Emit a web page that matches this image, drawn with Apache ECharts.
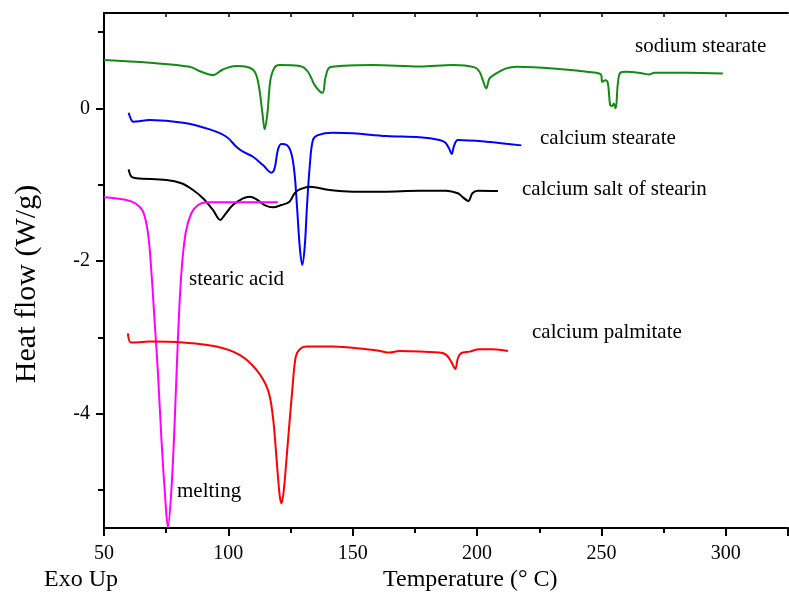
<!DOCTYPE html>
<html>
<head>
<meta charset="utf-8">
<script src="https://cdn.jsdelivr.net/npm/echarts@6/dist/echarts.min.js"></script>
<style>
  html, body { margin: 0; padding: 0; background: #fff; }
  #chart { width: 789px; height: 594px; }
</style>
</head>
<body>
<div id="chart"></div>
<script>
// DSC heat-flow curves (Exo Up), temperature in °C, heat flow in W/g

const sodiumT  = [50, 68.4, 84.4, 89.1, 93.8, 97.8, 103.2, 107.2, 110.6, 112.3, 113.7, 114.6, 115.7, 116.9, 118.6, 120.6, 128.7, 132, 134.7, 137.8, 139.1, 140.7, 144.7, 158.1, 176.9, 190.3, 199, 201, 202.3, 203.7, 205, 207.7, 211.7, 215.8, 230.5, 247.9, 249.9, 250.3, 251.6, 252.6, 253.5, 254.3, 254.9, 255.7, 256.6, 257.6, 260, 266.6, 269.1, 271.3, 284.1, 298.8];
const sodiumHF = [0.633, 0.597, 0.545, 0.48, 0.436, 0.51, 0.554, 0.545, 0.48, 0.283, -0.066, -0.275, -0.066, 0.37, 0.537, 0.567, 0.554, 0.48, 0.305, 0.204, 0.414, 0.537, 0.554, 0.567, 0.548, 0.567, 0.537, 0.48, 0.37, 0.262, 0.393, 0.458, 0.524, 0.545, 0.524, 0.466, 0.436, 0.348, 0.37, 0.327, 0.043, 0.03, 0.065, 0.0, 0.327, 0.466, 0.48, 0.458, 0.445, 0.466, 0.466, 0.458];

const caStearateT  = [59.9, 60.7, 61.7, 68.4, 81.8, 92.5, 99.2, 103.2, 105.9, 109.9, 113.9, 117.3, 118.6, 119.9, 121.3, 123.5, 125.3, 126.6, 127.6, 128.7, 129.7, 130.7, 131.6, 132.7, 134, 136, 142, 150.1, 163.5, 176.9, 184.9, 187.3, 188.7, 189.8, 190.7, 192.3, 203.7, 217.8];
const caStearateHF = [-0.058, -0.131, -0.175, -0.153, -0.188, -0.275, -0.372, -0.503, -0.568, -0.634, -0.743, -0.843, -0.786, -0.546, -0.468, -0.481, -0.589, -0.851, -1.289, -1.813, -2.052, -1.813, -1.289, -0.765, -0.415, -0.35, -0.319, -0.327, -0.363, -0.38, -0.415, -0.45, -0.524, -0.598, -0.494, -0.415, -0.437, -0.485];

const stearinT  = [59.9, 61, 63, 75.1, 81.1, 85.8, 89.8, 93.8, 96.8, 98.5, 101.8, 105.9, 108.6, 111.3, 114.6, 117.9, 121.3, 124.6, 126.6, 128.7, 132.7, 140.7, 150.1, 162.1, 176.9, 187.6, 192.3, 194.3, 196.5, 198.1, 200.3, 208.4];
const stearinHF = [-0.799, -0.895, -0.917, -0.939, -0.982, -1.07, -1.179, -1.332, -1.463, -1.398, -1.267, -1.179, -1.158, -1.192, -1.267, -1.297, -1.267, -1.223, -1.113, -1.061, -1.027, -1.07, -1.092, -1.092, -1.079, -1.079, -1.113, -1.166, -1.214, -1.113, -1.079, -1.083];

const stearicT  = [50, 59, 63, 65.7, 67.7, 69.1, 70.4, 71.7, 73.1, 74.4, 75.7, 77.1, 78.4, 79.7, 81.1, 82.8, 85.1, 87.8, 91.2, 119.9];
const stearicHF = [-1.166, -1.201, -1.253, -1.354, -1.637, -2.161, -2.816, -3.471, -4.344, -4.999, -5.49, -4.999, -4.126, -3.035, -2.161, -1.637, -1.375, -1.267, -1.231, -1.231];

const palmitateT  = [59.6, 61, 68.4, 81.8, 95.2, 104.5, 111.3, 115.9, 117.9, 119.3, 120.6, 121.4, 122.3, 124, 125.7, 127.1, 128.7, 131.3, 142, 155.5, 160.8, 164.8, 168.8, 184.9, 187.6, 189.6, 191.2, 192.3, 193.6, 197, 201, 206.3, 212.4];
const palmitateHF = [-2.947, -3.07, -3.057, -3.07, -3.122, -3.231, -3.428, -3.69, -4.04, -4.563, -5.065, -5.174, -4.999, -4.344, -3.69, -3.253, -3.157, -3.122, -3.122, -3.157, -3.179, -3.201, -3.179, -3.201, -3.231, -3.319, -3.415, -3.274, -3.209, -3.188, -3.157, -3.157, -3.179];

// Axis ticks and labels
const xMajorTicks = [50, 100, 150, 200, 250, 300, 325];
const xMinorTicks = [75, 125, 175, 225, 275];
const xLabels     = [50, 100, 150, 200, 250, 300];
const xTopTicks   = [75, 100, 125, 150, 175, 200, 225, 250, 275, 300];
const yMajorTicks = [-4, -2, 0];
const yMinorTicks = [-5, -3, -1, 1];

const FONT = '"Liberation Serif", "DejaVu Serif", serif';

function pairs(xs, ys) {
  return xs.map((x, i) => [x, ys[i]]);
}

function curve(name, xs, ys, color) {
  return {
    name: name,
    type: 'line',
    xAxisIndex: 0,
    yAxisIndex: 0,
    data: pairs(xs, ys),
    showSymbol: false,
    smooth: 0.35,
    lineStyle: { color: color, width: 2 },
    itemStyle: { color: color },
    silent: true,
    animation: false
  };
}

const frameLine = { show: true, onZero: false, lineStyle: { color: '#000', width: 2 } };
const noLine = { show: false, onZero: false };

const chart = echarts.init(document.getElementById('chart'), null, { renderer: 'canvas' });

chart.setOption({
  backgroundColor: '#ffffff',
  animation: false,
  grid: { left: 104, right: 1, top: 13, bottom: 66, containLabel: false },
  xAxis: [
    {
      type: 'value', min: 50, max: 325, position: 'bottom',
      axisLine: frameLine,
      axisTick: { show: true, inside: false, length: 8, customValues: xMajorTicks, lineStyle: { color: '#000', width: 2 } },
      axisLabel: { show: true, customValues: xLabels, margin: 16, color: '#000', fontSize: 20, fontFamily: FONT },
      splitLine: { show: false }
    },
    {
      type: 'value', min: 50, max: 325, position: 'bottom',
      axisLine: noLine,
      axisTick: { show: true, inside: false, length: 5, customValues: xMinorTicks, lineStyle: { color: '#000', width: 2 } },
      axisLabel: { show: false },
      splitLine: { show: false }
    },
    {
      type: 'value', min: 50, max: 325, position: 'top',
      axisLine: frameLine,
      axisTick: { show: true, inside: true, length: 4, customValues: xTopTicks, lineStyle: { color: '#000', width: 1.5 } },
      axisLabel: { show: false },
      splitLine: { show: false }
    }
  ],
  yAxis: [
    {
      type: 'value', min: -5.5, max: 1.25, position: 'left',
      axisLine: frameLine,
      axisTick: { show: true, inside: false, length: 8, customValues: yMajorTicks, lineStyle: { color: '#000', width: 2 } },
      axisLabel: { show: true, customValues: yMajorTicks, margin: 14, color: '#000', fontSize: 20, fontFamily: FONT },
      splitLine: { show: false }
    },
    {
      type: 'value', min: -5.5, max: 1.25, position: 'left',
      axisLine: noLine,
      axisTick: { show: true, inside: false, length: 6, customValues: yMinorTicks, lineStyle: { color: '#000', width: 2 } },
      axisLabel: { show: false },
      splitLine: { show: false }
    }
  ],
  series: [
    curve('sodium stearate', sodiumT, sodiumHF, '#138a13'),
    curve('calcium stearate', caStearateT, caStearateHF, '#0000ff'),
    curve('calcium salt of stearin', stearinT, stearinHF, '#000000'),
    curve('stearic acid', stearicT, stearicHF, '#ff00ff'),
    curve('calcium palmitate', palmitateT, palmitateHF, '#ff0000')
  ],
  graphic: [
    { type: 'text', left: 635, top: 36, style: { text: 'sodium stearate', font: '21px ' + FONT, fill: '#000' } },
    { type: 'text', left: 540, top: 128, style: { text: 'calcium stearate', font: '21px ' + FONT, fill: '#000' } },
    { type: 'text', left: 522, top: 179, style: { text: 'calcium salt of stearin', font: '21px ' + FONT, fill: '#000' } },
    { type: 'text', left: 189, top: 269, style: { text: 'stearic acid', font: '21px ' + FONT, fill: '#000' } },
    { type: 'text', left: 532, top: 322, style: { text: 'calcium palmitate', font: '21px ' + FONT, fill: '#000' } },
    { type: 'text', left: 177, top: 481, style: { text: 'melting', font: '21px ' + FONT, fill: '#000' } },
    { type: 'text', left: 44, top: 568, style: { text: 'Exo Up', font: '24px ' + FONT, fill: '#000' } },
    { type: 'text', left: 383, top: 568, style: { text: 'Temperature (° C)', font: '24px ' + FONT, fill: '#000' } },
    {
      type: 'text', x: 27, y: 284, rotation: Math.PI / 2,
      style: { text: 'Heat flow (W/g)', font: '30px ' + FONT, fill: '#000', align: 'center', verticalAlign: 'middle' }
    }
  ]
});
</script>
</body>
</html>
